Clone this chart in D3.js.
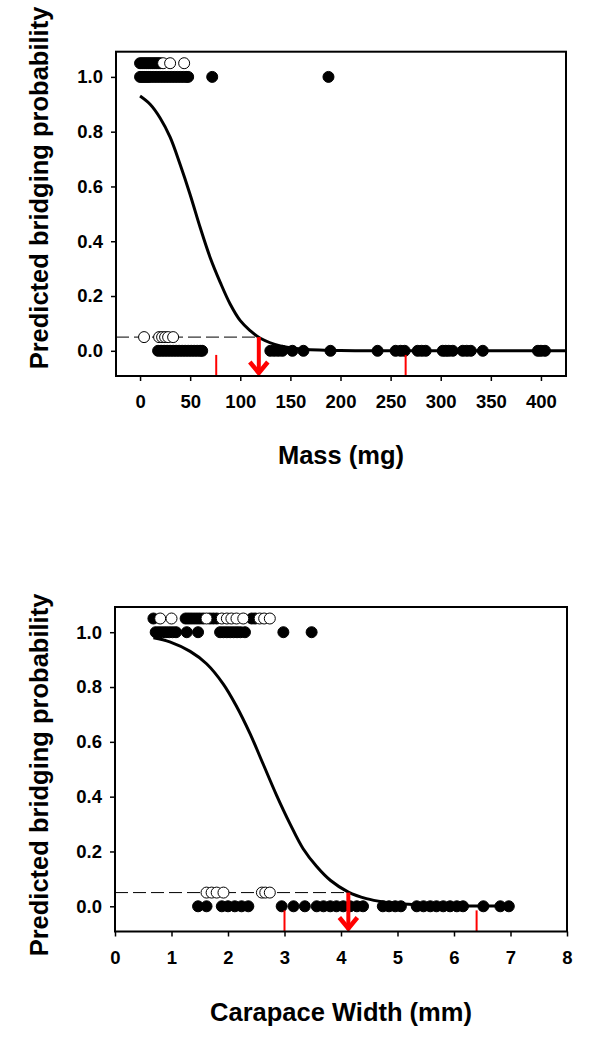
<!DOCTYPE html>
<html><head><meta charset="utf-8">
<script src="https://cdn.jsdelivr.net/npm/d3@7"></script>
<style>
html,body{margin:0;padding:0;background:#fff;}
svg{display:block;}
text{font-family:"Liberation Sans",Arial,sans-serif;font-weight:bold;fill:#000;}
</style></head>
<body>
<svg id="chart" width="600" height="1043"></svg>
<script>
// ---------- Panel A: Mass ----------
const massTicks = [0,50,100,150,200,250,300,350,400];
const probTicks = [0.0,0.2,0.4,0.6,0.8,1.0];
const massBridgeFilledHigh = [0,2,4,6,8,10,12,14,16,18,20];   // plotted at 1.05
const massBridgeOpenHigh = [23,30,44];                         // plotted at 1.05
const massBridgeFilled = [0,2,4,6,8,10,13,16,19,22,25,28,31,34,37,40,43,46,48,72,188]; // at 1.0
const massNoBridgeOpen = [4,19,22,25,28,33];                   // at 0.05
const massNoBridgeFilled = [18,21,24,27,30,33,36,39,42,45,48,51,54,57,60,62,
  130,134,138,142,152,163,190,237,255,260,264,277,281,285,302,305,308,312,322,326,330,342,397,400,404]; // at 0.0
const massCurveX = [0,10,20,30,40,50,60,70,80,90,100,110,120,140,160,200,250,300,425];
const massCurveP = [0.93,0.90,0.85,0.78,0.68,0.57,0.45,0.34,0.25,0.17,0.11,0.073,0.046,0.018,0.007,0.001,0.0,0.0,0.0];
const massThreshold = 118.5;
const massRedTicks = [76,265];

// ---------- Panel B: Carapace width ----------
const cwTicks = [0,1,2,3,4,5,6,7,8];
const cwBridgeFilledHigh = [0.68,1.25,1.3,1.35,1.4,1.45,1.5,1.56,1.68,1.74,1.8,2.42,2.48];   // at 1.05
const cwBridgeOpenHigh = [0.8,1.0,1.62,1.89,1.98,2.06,2.15,2.27,2.56,2.64,2.74];              // at 1.05
const cwBridgeFilled = [0.72,0.78,0.84,0.9,0.96,1.02,1.08,1.27,1.47,1.86,1.92,1.98,2.04,2.1,2.16,2.22,2.3,2.98,3.48]; // at 1.0
const cwNoBridgeOpen = [1.62,1.71,1.8,1.92,2.6,2.66,2.74];     // at 0.05
const cwNoBridgeFilled = [1.47,1.62,1.89,2.0,2.12,2.24,2.36,2.95,3.16,3.36,3.57,3.69,3.81,3.92,4.04,4.16,4.28,4.39,
  4.74,4.85,4.96,5.06,5.34,5.46,5.58,5.69,5.81,5.93,6.05,6.16,6.52,6.82,6.97]; // at 0.0
const cwCurveX = [0.68,0.97,1.33,1.62,1.92,2.15,2.39,2.62,2.86,3.10,3.33,3.57,3.81,4.13,4.45,4.75,5.2,6.0,7.0];
const cwCurveP = [0.98,0.965,0.93,0.885,0.81,0.73,0.63,0.52,0.405,0.30,0.21,0.145,0.095,0.052,0.028,0.016,0.007,0.002,0.001];
const cwThreshold = 4.13;
const cwRedTicks = [3.0,6.4];

const yDomain = [-0.092, 1.092];
const svg = d3.select("#chart");

function panel(o){
  const g = svg.append("g");
  const x = d3.scaleLinear().domain(o.xDomain).range([o.left, o.right]);
  const y = d3.scaleLinear().domain(yDomain).range([o.bottom, o.top]);

  const xa = g.append("g").attr("transform",`translate(0,${o.bottom})`)
    .call(d3.axisBottom(x).tickValues(o.xTicks).tickSize(5).tickPadding(14).tickFormat(d3.format("d")));
  xa.select(".domain").remove();
  xa.selectAll("line").attr("stroke","#000").attr("stroke-width",1.5);
  xa.selectAll("text").style("font-size","18.5px").attr("fill","#000");

  const ya = g.append("g").attr("transform",`translate(${o.left},0)`)
    .call(d3.axisLeft(y).tickValues(probTicks).tickSize(5).tickPadding(8).tickFormat(d3.format(".1f")));
  ya.select(".domain").remove();
  ya.selectAll("line").attr("stroke","#000").attr("stroke-width",1.5);
  ya.selectAll("text").style("font-size","18.5px").attr("fill","#000");

  g.append("line").attr("x1",o.left).attr("x2",x(o.threshold))
    .attr("y1",y(0.05)).attr("y2",y(0.05))
    .attr("stroke","#000").attr("stroke-width",1).attr("stroke-dasharray","13,5");

  const pts = g.append("g");
  function dots(arr, level, open){
    pts.append("g").selectAll("circle").data(arr).join("circle")
      .attr("cx",d=>x(d)).attr("cy",y(level)).attr("r",5.5)
      .attr("fill",open?"#fff":"#000").attr("stroke","#000").attr("stroke-width",1);
  }
  dots(o.filledHigh,1.05,false);
  dots(o.openHigh,1.05,true);
  dots(o.filled,1.0,false);
  dots(o.filledLow,0.0,false);
  dots(o.openLow,0.05,true);

  const line = d3.line().x(d=>x(d[0])).y(d=>y(d[1])).curve(d3.curveCatmullRom.alpha(0.5));
  g.append("path").datum(o.curveX.map((v,i)=>[v,o.curveP[i]]))
    .attr("d",line).attr("fill","none").attr("stroke","#000").attr("stroke-width",3);

  g.append("g").selectAll("line").data(o.redTicks).join("line")
    .attr("x1",d=>x(d)).attr("x2",d=>x(d))
    .attr("y1",y(-0.015)).attr("y2",o.bottom)
    .attr("stroke","#ff0000").attr("stroke-width",2);

  const ax = x(o.threshold);
  g.append("line").attr("x1",ax).attr("x2",ax).attr("y1",y(0.05)).attr("y2",o.bottom-2)
    .attr("stroke","#ff0000").attr("stroke-width",4);
  g.append("path").attr("d",`M${ax-9},${o.bottom-14} L${ax},${o.bottom-3} L${ax+9},${o.bottom-14}`)
    .attr("fill","none").attr("stroke","#ff0000").attr("stroke-width",4.5).attr("stroke-linejoin","miter");

  g.append("rect").attr("x",o.left).attr("y",o.top).attr("width",o.right-o.left).attr("height",o.bottom-o.top)
    .attr("fill","none").attr("stroke","#000").attr("stroke-width",2);

  g.append("text").attr("x",(o.left+o.right)/2).attr("y",o.xTitleY).attr("text-anchor","middle")
    .style("font-size","25.5px").text(o.xTitle);
  g.append("text").attr("transform",`translate(${o.yTitleX},${o.yTitleCY}) rotate(-90)`)
    .attr("text-anchor","middle").style("font-size","25.5px").text("Predicted bridging probability");
}

panel({xDomain:[-24,425], left:116, right:566, top:51.7, bottom:376,
  xTicks:massTicks, threshold:massThreshold, redTicks:massRedTicks,
  filledHigh:massBridgeFilledHigh, openHigh:massBridgeOpenHigh, filled:massBridgeFilled,
  filledLow:massNoBridgeFilled, openLow:massNoBridgeOpen,
  curveX:massCurveX, curveP:massCurveP,
  xTitle:"Mass (mg)", xTitleY:464, yTitleX:48, yTitleCY:188});

panel({xDomain:[0,8], left:115, right:567, top:607, bottom:931.5,
  xTicks:cwTicks, threshold:cwThreshold, redTicks:cwRedTicks,
  filledHigh:cwBridgeFilledHigh, openHigh:cwBridgeOpenHigh, filled:cwBridgeFilled,
  filledLow:cwNoBridgeFilled, openLow:cwNoBridgeOpen,
  curveX:cwCurveX, curveP:cwCurveP,
  xTitle:"Carapace Width (mm)", xTitleY:1021, yTitleX:48, yTitleCY:775});
</script>
</body></html>
